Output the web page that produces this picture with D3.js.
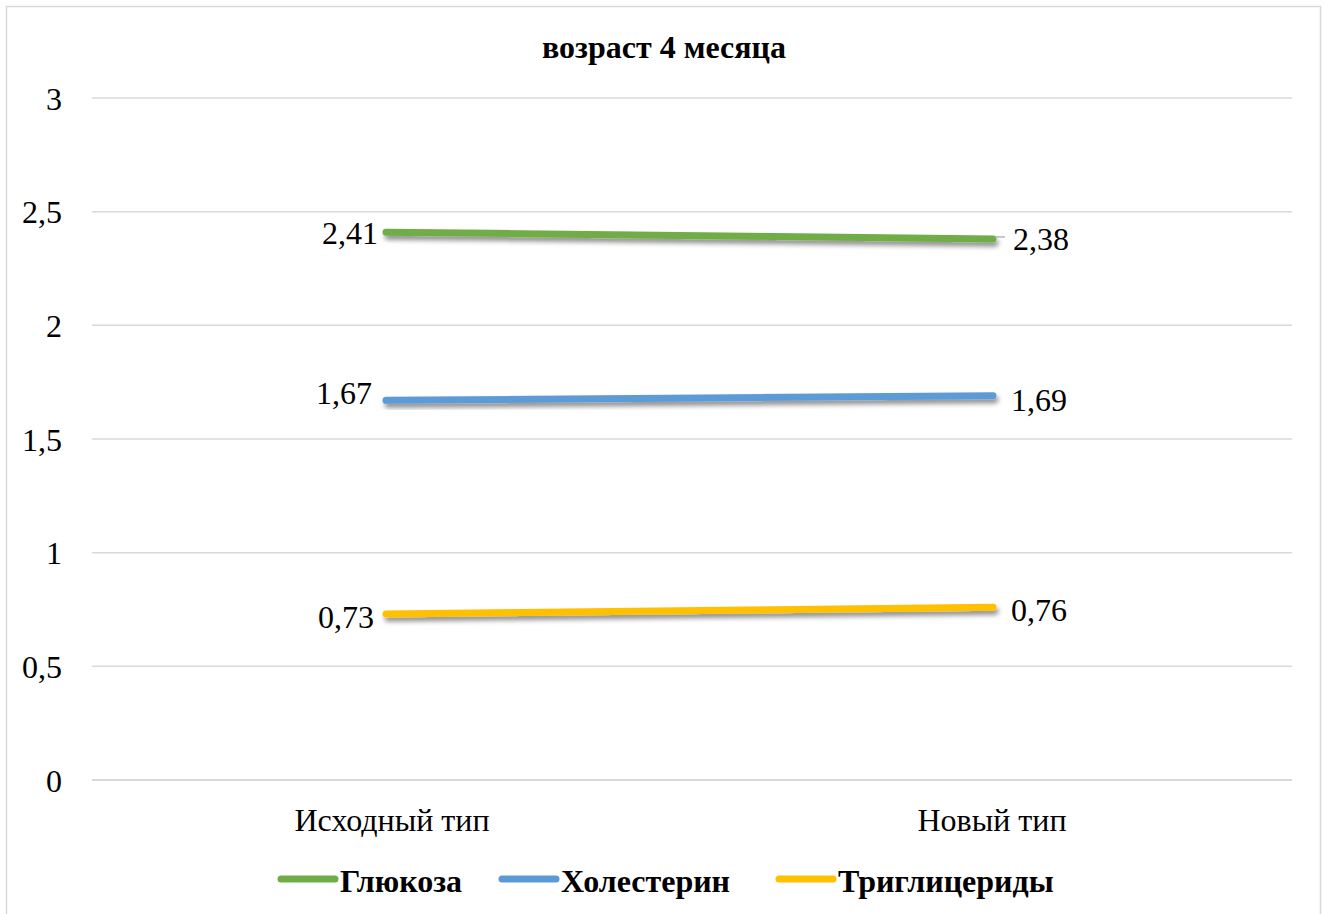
<!DOCTYPE html>
<html><head><meta charset="utf-8">
<script src="https://cdn.jsdelivr.net/npm/d3@7"></script>
<style>body{margin:0;background:#fff}svg{display:block}svg text{font-family:"Liberation Serif","Times New Roman",serif}</style>
</head><body>
<script>
const categories = ["Исходный тип", "Новый тип"];
const seriesNames = ["Глюкоза", "Холестерин", "Триглицериды"];
const glucose = [2.41, 2.38];
const cholesterol = [1.67, 1.69];
const triglycerides = [0.73, 0.76];
const yTicks = [0, 0.5, 1, 1.5, 2, 2.5, 3];
const colors = ["#70AD47", "#5B9BD5", "#FFC000"];
const title = "возраст 4 месяца";

(function(){
const W = 1330, H = 914;
const svg = d3.select("body").append("svg").attr("width", W).attr("height", H);
const FS = 32;

const defs = svg.append("defs");
const f = defs.append("filter").attr("id","sh").attr("x","-10%").attr("y","-200%").attr("width","120%").attr("height","500%");
f.append("feGaussianBlur").attr("in","SourceAlpha").attr("stdDeviation",2.5).attr("result","b");
f.append("feOffset").attr("in","b").attr("dx",2).attr("dy",4).attr("result","o");
f.append("feComponentTransfer").attr("in","o").attr("result","o2").append("feFuncA").attr("type","linear").attr("slope",0.45);
const m = f.append("feMerge"); m.append("feMergeNode").attr("in","o2"); m.append("feMergeNode").attr("in","SourceGraphic");

svg.append("rect").attr("x",6.5).attr("y",6.5).attr("width",1314).attr("height",920)
  .attr("fill","#fff").attr("stroke","#d9d9d9").attr("stroke-width",1.5);

const pLeft = 92, pRight = 1292, pTop = 98, pBottom = 780;
const x = d3.scaleBand().domain(categories).range([pLeft, pRight]);
const y = d3.scaleLinear().domain([0, 3]).range([pBottom, pTop]);

svg.append("text").attr("x", 664).attr("y", 47).attr("dy","0.35em").attr("text-anchor","middle")
  .attr("font-weight","bold").attr("font-size",FS).text(title);

const grid = svg.append("g");
yTicks.forEach(t => {
  grid.append("line").attr("x1",pLeft).attr("x2",pRight).attr("y1",y(t)).attr("y2",y(t))
    .attr("stroke","#d9d9d9").attr("stroke-width", t===0?2:1.5);
});
const yAxis = d3.axisLeft(y).tickValues(yTicks).tickSize(0).tickPadding(0)
  .tickFormat(d => String(d).replace(".", ","));
const ya = svg.append("g").attr("transform",`translate(62,0)`).call(yAxis);
ya.attr("font-family", null).attr("font-size", null);
ya.select(".domain").remove();
ya.selectAll("text").attr("font-size",FS).attr("fill","#000").attr("dy","0.35em");

const xAxis = d3.axisBottom(x).tickSize(0).tickPadding(0);
const xa = svg.append("g").attr("transform",`translate(0,${pBottom+40})`).call(xAxis);
xa.attr("font-family", null).attr("font-size", null);
xa.select(".domain").remove();
xa.selectAll("text").attr("font-size",FS).attr("fill","#000").attr("dy","0.35em");

const series = [glucose, cholesterol, triglycerides];
const cx = c => x(c) + x.bandwidth()/2;
const px = i => i===0 ? cx(categories[0]) - 6 : cx(categories[1]) + 1;
const line2 = d3.line().x((d,i) => px(i)).y(d => y(d));

const labelPos = [
  [[-8, 1, "end"], [20, 0, "start"]],
  [[-14, -8, "end"], [18, 4, "start"]],
  [[-12, 3, "end"], [18, 3, "start"]]
];

series.forEach((vals, s) => {
  svg.append("path").datum(vals).attr("d", line2).attr("fill","none")
    .attr("stroke", colors[s]).attr("stroke-width",7).attr("stroke-linecap","round")
    .attr("filter","url(#sh)");
  vals.forEach((v, i) => {
    const [dx, dy, anchor] = labelPos[s][i];
    svg.append("text").attr("x", px(i) + dx).attr("y", y(v) + dy).attr("dy","0.35em")
      .attr("text-anchor", anchor).attr("font-size",FS)
      .text(String(v).replace(".", ","));
  });
});
svg.append("line").attr("x1", cx(categories[1]) + 2).attr("x2", cx(categories[1]) + 13)
  .attr("y1", y(glucose[1]) - 2).attr("y2", y(glucose[1]) - 2).attr("stroke","#a6a6a6").attr("stroke-width",1.2);

const legendX = [281, 502, 779];
const lg = svg.append("g");
seriesNames.forEach((n, i) => {
  lg.append("line").attr("x1", legendX[i]).attr("x2", legendX[i] + 54).attr("y1", 879).attr("y2", 879)
    .attr("stroke", colors[i]).attr("stroke-width",7).attr("stroke-linecap","round");
  lg.append("text").attr("x", legendX[i] + 59).attr("y", 881).attr("dy","0.35em")
    .attr("font-weight","bold").attr("font-size",FS).text(n);
});
})();
</script>
</body></html>
